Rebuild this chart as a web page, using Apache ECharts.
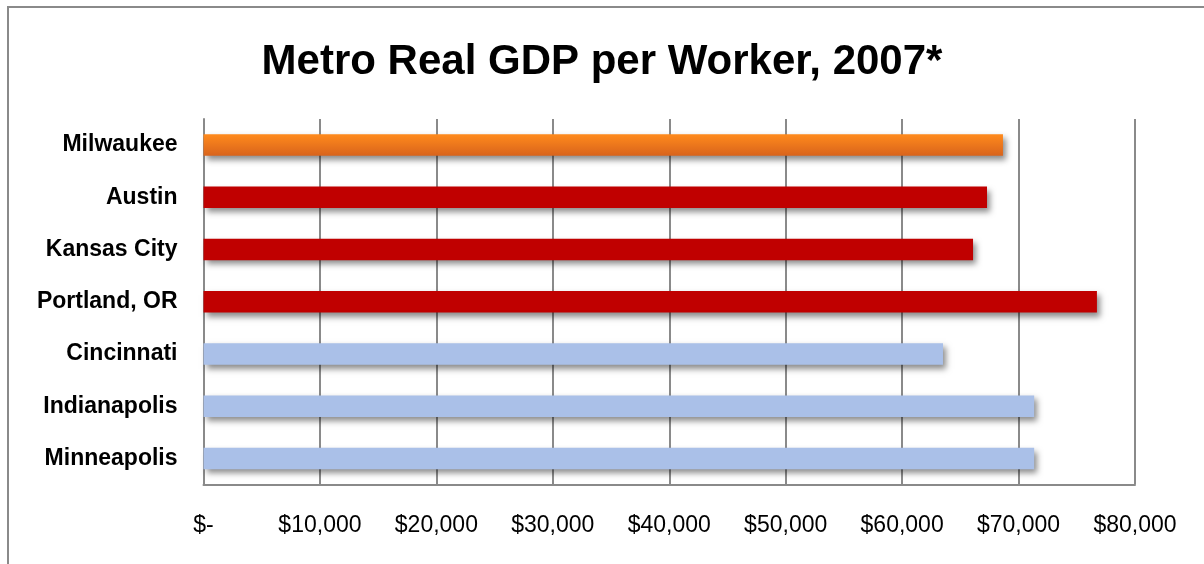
<!DOCTYPE html>
<html>
<head>
<meta charset="utf-8">
<script src="https://cdn.jsdelivr.net/npm/echarts@6/dist/echarts.min.js"></script>
<style>
html,body{margin:0;padding:0;background:#fff;}
#c{width:1204px;height:564px;}
</style>
</head>
<body>
<div id="c"></div>
<script>
var titleText = 'Metro Real GDP per Worker, 2007*';
var categories = ['Milwaukee', 'Austin', 'Kansas City', 'Portland, OR', 'Cincinnati', 'Indianapolis', 'Minneapolis'];
var gdpPerWorker = [68660, 67290, 66090, 76730, 63510, 71340, 71340];
var groups = ['home', 'peer', 'peer', 'peer', 'other', 'other', 'other'];
var xTicks = [0, 10000, 20000, 30000, 40000, 50000, 60000, 70000, 80000];

var groupStyle = {
  home: { color: new echarts.graphic.LinearGradient(0, 0, 0, 1, [
    { offset: 0, color: '#FF8A1C' }, { offset: 1, color: '#D8631C' }]) },
  peer: { color: '#C00000' },
  other: { color: '#AAC0E8' }
};

var chart = echarts.init(document.getElementById('c'), null, { renderer: 'canvas' });
var FONT = '"Liberation Sans", Arial, sans-serif';

chart.setOption({
  backgroundColor: '#ffffff',
  animation: false,
  title: {
    text: titleText,
    left: 'center',
    top: 36,
    textStyle: { fontFamily: FONT, fontWeight: 'bold', fontSize: 42, color: '#000' }
  },
  graphic: [{
    type: 'polyline',
    shape: { points: [[8, 600], [8, 7], [1210, 7]] },
    style: { stroke: '#8a8a8a', lineWidth: 2, fill: null }
  }],
  grid: { left: 203.5, right: 69, top: 119, bottom: 79.5, containLabel: false },
  xAxis: {
    type: 'value',
    min: xTicks[0],
    max: xTicks[xTicks.length - 1],
    interval: xTicks[1] - xTicks[0],
    axisLine: { show: true, lineStyle: { color: '#8a8a8a', width: 2 } },
    axisTick: { show: false },
    splitLine: { show: true, lineStyle: { color: '#8a8a8a', width: 2 } },
    axisLabel: {
      margin: 30,
      fontFamily: FONT, fontSize: 23, color: '#000',
      formatter: function (v) { return v === 0 ? '$-' : '$' + v.toLocaleString('en-US'); }
    }
  },
  yAxis: {
    type: 'category',
    data: categories,
    inverse: true,
    axisLine: { show: true, lineStyle: { color: '#8a8a8a', width: 2 } },
    axisTick: { show: false },
    axisLabel: { margin: 26, fontFamily: FONT, fontWeight: 'bold', fontSize: 23, color: '#000' }
  },
  series: [{
    type: 'bar',
    barWidth: 21.5,
    data: gdpPerWorker.map(function (v, i) {
      return {
        value: v,
        itemStyle: {
          color: groupStyle[groups[i]].color,
          shadowColor: 'rgba(0,0,0,0.45)',
          shadowBlur: 6,
          shadowOffsetX: 3,
          shadowOffsetY: 4
        }
      };
    })
  }]
});
</script>
</body>
</html>
